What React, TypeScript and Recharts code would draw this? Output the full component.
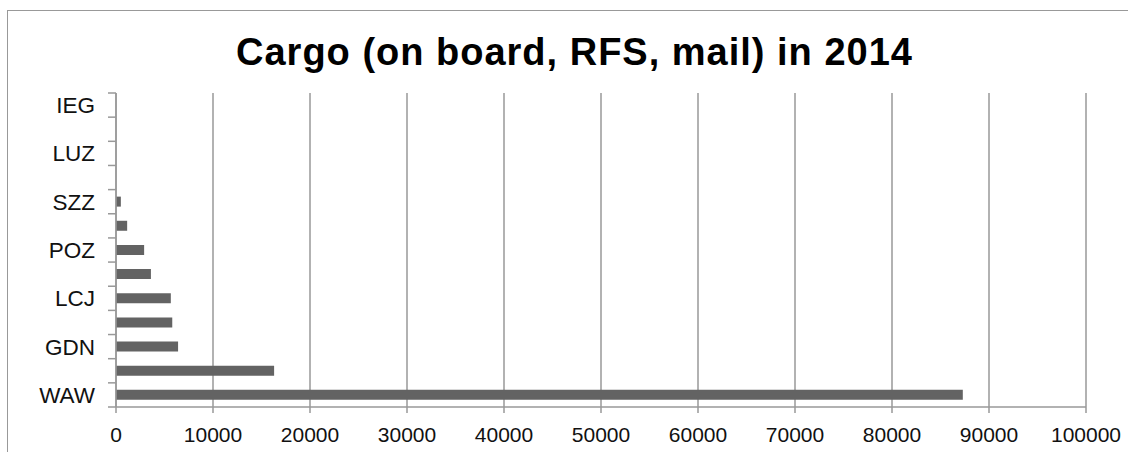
import React from 'react';
import { BarChart, Bar, XAxis, YAxis, CartesianGrid } from 'recharts';

const airports = ['WAW', 'KTW', 'GDN', 'KRK', 'LCJ', 'WRO', 'POZ', 'RZE', 'SZZ', 'BZG', 'LUZ', 'SZY', 'IEG'];
const cargo = [87300, 16300, 6400, 5800, 5650, 3600, 2900, 1150, 500, 0, 0, 0, 0];
const xTicks = [0, 10000, 20000, 30000, 40000, 50000, 60000, 70000, 80000, 90000, 100000];

const data = airports.map((name, i) => ({ name, value: cargo[i] }));

const W = 1128;
const H = 452;
const MARGIN = { top: 93, right: 42, bottom: 15, left: 0 };
const Y_AXIS_W = 116;
const X_AXIS_H = 30;
const PLOT_H = H - MARGIN.top - MARGIN.bottom - X_AXIS_H;
const STEP = PLOT_H / airports.length;
const FONT = '"Liberation Sans", Arial, Helvetica, sans-serif';
const GRAY = '#999999';

const CategoryTick = (props: any) => {
  const { y, payload } = props;
  const idx = airports.indexOf(payload.value);
  const axisX = Y_AXIS_W;
  return (
    <g>
      <line x1={axisX - 8} x2={axisX} y1={y + STEP / 2} y2={y + STEP / 2} stroke={GRAY} strokeWidth={1.5} />
      {idx === airports.length - 1 && (
        <line x1={axisX - 8} x2={axisX} y1={y - STEP / 2} y2={y - STEP / 2} stroke={GRAY} strokeWidth={1.5} />
      )}
      {idx % 2 === 0 && (
        <text x={axisX - 21} y={y} dy="0.36em" textAnchor="end" fontSize={22.5} fill="#111" fontFamily={FONT}>
          {payload.value}
        </text>
      )}
    </g>
  );
};

export default function App() {
  return (
    <div style={{ position: 'fixed', top: 0, left: 0, width: W, height: H, overflow: 'hidden', background: '#fff', fontFamily: FONT }}>
      <div style={{ position: 'absolute', left: 7, top: 10, width: 1300, height: 600, border: `1.5px solid ${GRAY}` }} />
      <div
        style={{
          position: 'absolute', left: 0, top: 33, width: 1149, textAlign: 'center',
          fontSize: 38, lineHeight: '38px', fontWeight: 'bold', color: '#000', letterSpacing: 1,
        }}
      >
        Cargo (on board, RFS, mail) in 2014
      </div>
      <div style={{ position: 'absolute', left: 0, top: 0 }}>
        <BarChart width={W} height={H} data={data} layout="vertical" margin={MARGIN}>
          <CartesianGrid horizontal={false} stroke={GRAY} strokeWidth={1.5} />
          <XAxis
            type="number"
            domain={[0, 100000]}
            ticks={xTicks}
            height={X_AXIS_H}
            tickSize={6}
            tickMargin={14}
            axisLine={{ stroke: GRAY, strokeWidth: 1.5 }}
            tickLine={{ stroke: GRAY, strokeWidth: 1.5 }}
            tick={{ fill: '#111', fontSize: 21, fontFamily: FONT }}
            interval={0}
          />
          <YAxis
            type="category"
            dataKey="name"
            reversed
            width={Y_AXIS_W}
            interval={0}
            tickLine={false}
            axisLine={{ stroke: GRAY, strokeWidth: 1.5 }}
            tick={<CategoryTick />}
          />
          <Bar dataKey="value" fill="#636363" barSize={10} isAnimationActive={false} />
        </BarChart>
      </div>
    </div>
  );
}
